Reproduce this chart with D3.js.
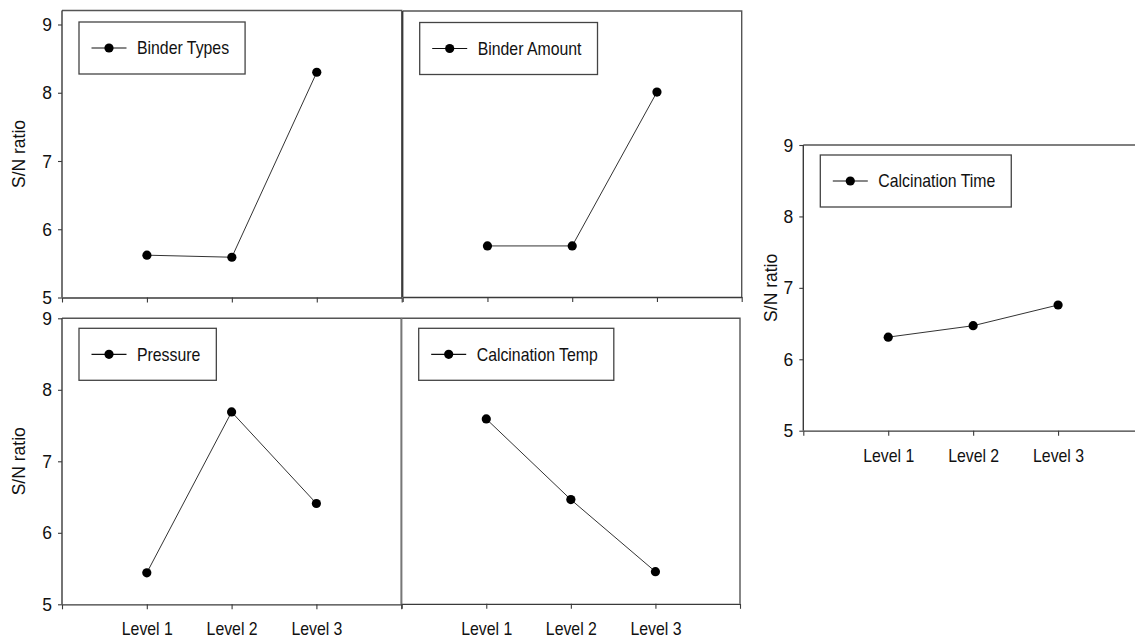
<!DOCTYPE html>
<html>
<head>
<meta charset="utf-8">
<script src="https://cdn.jsdelivr.net/npm/d3@7"></script>
<style>
  html, body { margin: 0; padding: 0; background: #fff; }
  svg { display: block; }
  text { font-family: "Liberation Sans", Arial, sans-serif; fill: #111; }
</style>
</head>
<body>
<svg id="chart" width="1135" height="639"></svg>
<script>
// Taguchi main-effects plots: mean S/N ratio per factor level
const levels = ["Level 1", "Level 2", "Level 3"];
const yTicks = [5, 6, 7, 8, 9];
const yAxisTitle = "S/N ratio";

const binderTypes     = [5.62, 5.59, 8.30];
const binderAmount    = [5.75, 5.75, 8.01];
const pressure        = [5.44, 7.69, 6.41];
const calcinationTemp = [7.59, 6.46, 5.45];
const calcinationTime = [6.31, 6.47, 6.76];

const factorNames = ["Binder Types", "Binder Amount", "Pressure", "Calcination Temp", "Calcination Time"];
const factorValues = [binderTypes, binderAmount, pressure, calcinationTemp, calcinationTime];

// Panel frames (pixel layout) and which axis decorations each shows
const panels = [
  { x0: 62,    x1: 401.7, y0: 10.5,  y1: 297.5, yMax: 9.205, yLabels: true,  xLabels: false, titleDx: 43 },
  { x0: 402.7, x1: 741.7, y0: 11,    y1: 297,   yMax: 9.2,   yLabels: false, xLabels: false },
  { x0: 62,    x1: 401.2, y0: 318.3, y1: 604.3, yMax: 9,     yLabels: true,  xLabels: true,  titleDx: 43 },
  { x0: 401.7, x1: 740,   y0: 318.3, y1: 603.8, yMax: 9,     yLabels: false, xLabels: true },
  { x0: 803.3, x1: 1143,  y0: 145,   y1: 430.7, yMax: 9,     yLabels: true,  xLabels: true,  titleDx: 32 }
];

const svg = d3.select("#chart");
const axisColor = "#3a3a3a";
const condense = 0.88;   // narrow, tall label lettering

panels.forEach((p, i) => {
  const values = factorValues[i];
  const x = d3.scaleLinear().domain([0, 4]).range([p.x0, p.x1]);
  const y = d3.scaleLinear().domain([5, p.yMax]).range([p.y1, p.y0]);
  const g = svg.append("g");

  // frame: top and right edges
  g.append("path")
    .attr("d", `M${p.x0},${p.y0}H${p.x1}V${p.y1}`)
    .attr("fill", "none").attr("stroke", "#555").attr("stroke-width", 1.4);

  // bottom axis with ticks at 0..4, labels at the three levels
  const xAxis = d3.axisBottom(x)
    .tickValues([0, 1, 2, 3, 4])
    .tickSize(5).tickSizeOuter(0)
    .tickFormat(d => (p.xLabels && d >= 1 && d <= 3) ? levels[d - 1] : "");
  const gx = g.append("g").attr("transform", `translate(0,${p.y1})`).call(xAxis);
  gx.select(".domain").attr("stroke", axisColor).attr("stroke-width", 1.3);
  gx.selectAll(".tick line").attr("stroke", axisColor).attr("stroke-width", 1.1);
  gx.selectAll(".tick text")
    .attr("dy", 0).attr("y", 31)
    .attr("transform", `scale(${condense},1)`)
    .style("font-size", "18px")
    .style("font-family", "'Liberation Sans', Arial, sans-serif")
    .attr("fill", "#111");

  // left axis
  const yAxis = d3.axisLeft(y)
    .tickValues(yTicks)
    .tickSize(p.yLabels ? 4 : 0).tickSizeOuter(0)
    .tickPadding(6)
    .tickFormat(d => p.yLabels ? d3.format("d")(d) : "");
  const gy = g.append("g").attr("transform", `translate(${p.x0},0)`).call(yAxis);
  gy.select(".domain").attr("stroke", i === 3 ? "#777" : axisColor).attr("stroke-width", 1.4)
    .attr("d", `M0,${p.y0}V${p.y1}`);
  gy.selectAll(".tick line").attr("stroke", axisColor).attr("stroke-width", 1.1);
  gy.selectAll(".tick text")
    .attr("transform", "scale(1,1.08)")
    .style("font-size", "17.5px")
    .style("font-family", "'Liberation Sans', Arial, sans-serif")
    .attr("fill", "#111");

  if (p.yLabels) {
    g.append("text")
      .attr("transform", `translate(${p.x0 - p.titleDx},${(p.y0 + p.y1) / 2}) rotate(-90)`)
      .attr("text-anchor", "middle")
      .attr("dy", "0.35em")
      .style("font-size", "17.5px")
      .text(yAxisTitle);
  }

  // data line and markers
  const line = d3.line().x((d, k) => x(k + 1)).y(d => y(d));
  g.append("path")
    .datum(values)
    .attr("d", line)
    .attr("fill", "none").attr("stroke", "#333").attr("stroke-width", 1);
  g.selectAll("circle.pt")
    .data(values)
    .join("circle")
    .attr("class", "pt")
    .attr("cx", (d, k) => x(k + 1))
    .attr("cy", d => y(d))
    .attr("r", 4.6)
    .attr("fill", "#000");

  // legend box
  const lx = p.x0 + 17, ly = (i < 2 ? p.y0 + 11.5 : p.y0 + 10), lh = 52;
  const lg = g.append("g");
  const box = lg.append("rect")
    .attr("x", lx).attr("y", ly).attr("height", lh)
    .attr("fill", "#fff").attr("stroke", "#444").attr("stroke-width", 1.3);
  lg.append("line")
    .attr("x1", lx + 12.5).attr("x2", lx + 47.5)
    .attr("y1", ly + lh / 2).attr("y2", ly + lh / 2)
    .attr("stroke", "#111").attr("stroke-width", 1.2);
  lg.append("circle")
    .attr("cx", lx + 30).attr("cy", ly + lh / 2).attr("r", 4.6).attr("fill", "#000");
  const t = lg.append("text")
    .attr("transform", `translate(${lx + 58},${ly + lh / 2}) scale(${condense},1)`)
    .attr("dy", "0.36em")
    .style("font-size", "18px")
    .text(factorNames[i]);
  const tw = t.node().getComputedTextLength() * condense;
  box.attr("width", 58 + tw + 16);
});
</script>
</body>
</html>
